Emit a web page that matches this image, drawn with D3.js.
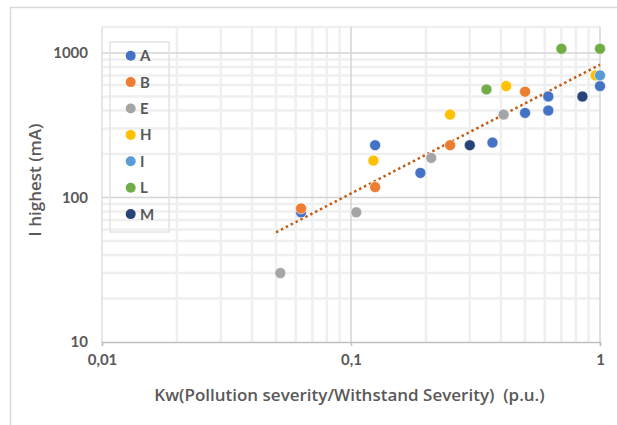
<!DOCTYPE html>
<html>
<head>
<meta charset="utf-8">
<script src="https://cdn.jsdelivr.net/npm/d3@7"></script>
<style>
  html, body { margin: 0; padding: 0; background: #fff; }
  svg { display: block; }
  text { font-family: Lato, "Open Sans", sans-serif; }
</style>
</head>
<body>
<svg id="chart" width="617" height="425"></svg>
<script>
// ---- data ----
const seriesNames = ["A", "B", "E", "H", "I", "L", "M"];
const seriesColors = ["#4472C4", "#ED7D31", "#A5A5A5", "#FFC000", "#5B9BD5", "#70AD47", "#264478"];
const xA = [0.063, 0.125, 0.19, 0.37, 0.5, 0.62, 0.62, 1.0];
const yA = [79, 230, 148, 240, 385, 400, 500, 590];
const xB = [0.063, 0.125, 0.25, 0.5];
const yB = [84, 118, 230, 540];
const xE = [0.052, 0.105, 0.21, 0.41];
const yE = [30, 79, 188, 375];
const xH = [0.123, 0.25, 0.42, 0.96];
const yH = [180, 375, 590, 700];
const xI = [1.0];
const yI = [700];
const xL = [0.35, 0.70, 1.0];
const yL = [560, 1070, 1070];
const xM = [0.30, 0.85];
const yM = [230, 500];
const xTickValues = [0.01, 0.1, 1];
const xTickLabels = ["0,01", "0,1", "1"];
const yTickValues = [10, 100, 1000];
const yTickLabels = ["10", "100", "1000"];
const trendRange = [0.05, 1];
const xTitle = "Kw(Pollution severity/Withstand Severity)  (p.u.)";
const yTitle = "I highest (mA)";

const seriesX = [xA, xB, xE, xH, xI, xL, xM];
const seriesY = [yA, yB, yE, yH, yI, yL, yM];

// ---- layout ----
const svg = d3.select("#chart");
const left = 102, right = 600, bottom = 342, plotTop = 27;
const x = d3.scaleLog().domain([0.01, 1]).range([left, right]);
const y = d3.scaleLog().domain([10, 1000]).range([bottom, 53]);

// chart outer border (only top/left visible)
svg.append("path")
  .attr("d", `M10.5,425 L10.5,7.5 L617,7.5`)
  .attr("fill", "none").attr("stroke", "#d9d9d9").attr("stroke-width", 1.5);

const grid = svg.append("g");
// minor gridlines
const minorX = [], minorY = [];
[0.01, 0.1].forEach(d => { for (let k = 2; k <= 9; k++) minorX.push(d * k); });
[10, 100].forEach(d => { for (let k = 2; k <= 9; k++) minorY.push(d * k); });

grid.selectAll(".mx").data(minorX).join("line")
  .attr("x1", d => x(d)).attr("x2", d => x(d))
  .attr("y1", plotTop).attr("y2", bottom)
  .attr("stroke", "#efefef").attr("stroke-width", 2.5);
grid.selectAll(".my").data(minorY).join("line")
  .attr("x1", left).attr("x2", right)
  .attr("y1", d => y(d)).attr("y2", d => y(d))
  .attr("stroke", "#efefef").attr("stroke-width", 2.5);

// plot frame top/left (light)
grid.append("line").attr("x1", left).attr("x2", right).attr("y1", plotTop).attr("y2", plotTop)
  .attr("stroke", "#efefef").attr("stroke-width", 2.5);
grid.append("line").attr("x1", left).attr("x2", left).attr("y1", plotTop).attr("y2", bottom)
  .attr("stroke", "#e6e6e6").attr("stroke-width", 2);

// major gridlines
grid.selectAll(".Mx").data(xTickValues.slice(1)).join("line")
  .attr("x1", d => x(d)).attr("x2", d => x(d))
  .attr("y1", plotTop).attr("y2", bottom)
  .attr("stroke", "#d4d4d4").attr("stroke-width", 1.5);
grid.selectAll(".My").data(yTickValues.slice(1)).join("line")
  .attr("x1", left).attr("x2", right)
  .attr("y1", d => y(d)).attr("y2", d => y(d))
  .attr("stroke", "#d4d4d4").attr("stroke-width", 1.5);

// x axis
const xAxis = d3.axisBottom(x).tickValues(xTickValues)
  .tickFormat((d, i) => xTickLabels[i]).tickSize(4).tickPadding(8);
const gx = svg.append("g").attr("transform", `translate(0,${bottom})`).call(xAxis);
gx.select(".domain").attr("stroke", "#bfbfbf").attr("stroke-width", 1.5);
gx.selectAll(".tick line").attr("stroke", "#bfbfbf").attr("stroke-width", 1.5);
gx.selectAll(".tick text").attr("fill", "#595959").attr("font-size", 15)
  .attr("font-weight", "bold").style("font-family", "Lato, sans-serif");

// y axis
const yAxis = d3.axisLeft(y).tickValues(yTickValues)
  .tickFormat((d, i) => yTickLabels[i]).tickSize(0).tickPadding(14);
const gy = svg.append("g").attr("transform", `translate(${left},0)`).call(yAxis);
gy.select(".domain").remove();
gy.selectAll(".tick text").attr("fill", "#595959").attr("font-size", 15)
  .attr("font-weight", "bold").style("font-family", "Lato, sans-serif");

// trendline (power fit over all points)
const all = [];
seriesX.forEach((xs, s) => xs.forEach((v, i) => all.push([Math.log10(v), Math.log10(seriesY[s][i])])));
const mx = d3.mean(all, d => d[0]), my = d3.mean(all, d => d[1]);
const slope = d3.sum(all, d => (d[0] - mx) * (d[1] - my)) / d3.sum(all, d => (d[0] - mx) ** 2);
const icpt = my - slope * mx;
const trendPts = d3.range(0, 41).map(i => {
  const lx = Math.log10(trendRange[0]) + (Math.log10(trendRange[1]) - Math.log10(trendRange[0])) * i / 40;
  return [Math.pow(10, lx), Math.pow(10, icpt + slope * lx)];
});
svg.append("path").datum(trendPts)
  .attr("d", d3.line().x(d => x(d[0])).y(d => y(d[1])))
  .attr("fill", "none").attr("stroke", "#C55A11").attr("stroke-width", 2.5)
  .attr("stroke-dasharray", "2.5,3");

// points
seriesNames.forEach((name, s) => {
  svg.append("g").selectAll("circle")
    .data(seriesX[s].map((v, i) => [v, seriesY[s][i]]))
    .join("circle")
    .attr("cx", d => x(d[0])).attr("cy", d => y(d[1])).attr("r", 5.5)
    .attr("fill", seriesColors[s]).attr("stroke", "#fff").attr("stroke-width", 0.6);
});

// legend
const lg = svg.append("g");
lg.append("rect").attr("x", 110).attr("y", 42).attr("width", 59).attr("height", 190)
  .attr("fill", "none").attr("stroke", "#e3e3e3").attr("stroke-width", 1.5);
seriesNames.forEach((name, s) => {
  const yy = 55.7 + s * 26.4;
  lg.append("circle").attr("cx", 130.7).attr("cy", yy).attr("r", 5).attr("fill", seriesColors[s]);
  lg.append("text").attr("x", 140).attr("y", yy).attr("dy", "0.36em")
    .attr("fill", "#595959").attr("font-size", 15).attr("font-weight", "bold").text(name);
});

// axis titles
svg.append("text").attr("x", 349.5).attr("y", 401).attr("text-anchor", "middle")
  .attr("xml:space", "preserve").style("white-space", "pre")
  .style("font-family", "'Open Sans', sans-serif")
  .attr("fill", "#595959").attr("font-size", 17).attr("font-weight", 600).text(xTitle);
svg.append("text").attr("transform", "translate(41,180) rotate(-90)").attr("text-anchor", "middle")
  .style("font-family", "'Open Sans', sans-serif")
  .attr("fill", "#595959").attr("font-size", 17).attr("font-weight", 600).text(yTitle);
</script>
</body>
</html>
